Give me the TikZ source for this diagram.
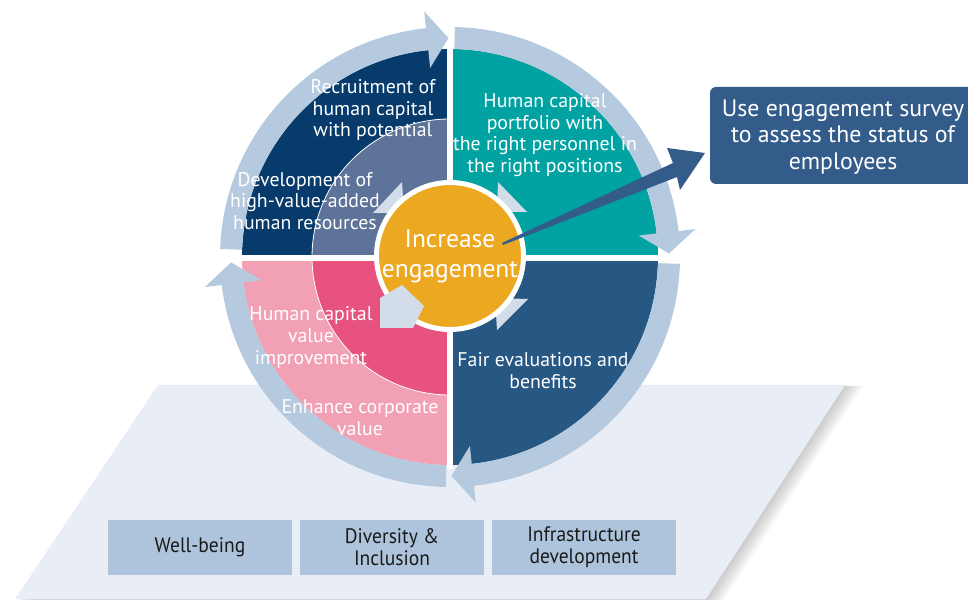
\documentclass[tikz,border=0pt]{standalone}
\usepackage{fontspec}
\setmainfont{PT Sans}
\newfontfamily\condf[FakeStretch=0.93]{PT Sans}
\usetikzlibrary{calc}
\definecolor{navyA}{HTML}{063B6C}
\definecolor{slate}{HTML}{5E7399}
\definecolor{tealc}{HTML}{00A3A2}
\definecolor{navyB}{HTML}{275783}
\definecolor{pinkL}{HTML}{F2A0B3}
\definecolor{pinkD}{HTML}{E8527F}
\definecolor{ringc}{HTML}{B6CADF}
\definecolor{innerc}{HTML}{D3DDEA}
\definecolor{orangec}{HTML}{ECA820}
\definecolor{bigblue}{HTML}{335C8A}
\definecolor{platc}{HTML}{E9EEF6}
\definecolor{botc}{HTML}{ADC4DC}
\definecolor{txtdark}{HTML}{1A1A1A}
\newcommand\ringarrow[2]{%
  \fill[ringc] ($(C)+(#1:230)$) arc[start angle=#1, end angle=#2, radius=230]
    -- ($(C)+(#2:247)$) -- ($(C)+({#2-5.6}:219)$) -- ($(C)+(#2:190)$)
    -- ($(C)+(#2:208)$) arc[start angle=#2, end angle=#1, radius=208] -- cycle;}
\tikzset{
  qtext/.style={text=white, align=center, font=\fontsize{19.8}{21.7}\selectfont, inner sep=0pt},
  botbox/.style={fill=botc, minimum width=184pt, minimum height=55pt, inner sep=0pt,
    align=center, text=txtdark, font=\condf\fontsize{21}{22}\selectfont},
}
\begin{document}
\begin{tikzpicture}[x=1pt,y=1pt]
\useasboundingbox (0,0) rectangle (968,599);
\clip (0,0) rectangle (968,599);
\coordinate (C) at (450,342);
% platform with soft shadow
\foreach \s in {2,4,...,18}{
  \fill[black, opacity=0.022] ($(158,214)+(\s,-1)$) -- ($(845,214)+(\s,-1)$) -- ($(706,0)+(\s,-1)$) -- ($(15,0)+(\s,-1)$) -- cycle;}
\fill[platc] (158,214) -- (845,214) -- (706,0) -- (15,0) -- cycle;
% quadrants
\fill[navyA] (C) -- ++(180:208) arc[start angle=180, end angle=90, radius=208] -- cycle;
\fill[slate, draw=white, line width=0.8pt] (C) -- ++(180:138) arc[start angle=180, end angle=90, radius=138] -- cycle;
\fill[tealc] (C) -- ++(90:208) arc[start angle=90, end angle=0, radius=208] -- cycle;
\fill[navyB] (C) -- ++(0:208) arc[start angle=0, end angle=-90, radius=208] -- cycle;
\fill[pinkL] (C) -- ++(-90:208) arc[start angle=-90, end angle=-180, radius=208] -- cycle;
\fill[pinkD, draw=white, line width=0.8pt] (C) -- ++(-90:138) arc[start angle=-90, end angle=-180, radius=138] -- cycle;
% white separators
\draw[white, line width=6.5pt] ($(C)+(-212,-1)$) -- ($(C)+(212,-1)$);
\draw[white, line width=6pt] ($(C)+(0,-212)$) -- ($(C)+(0,212)$);
% outer ring arrows
\ringarrow{178}{96}
\ringarrow{88.8}{6.5}
\ringarrow{-1.7}{-84}
\ringarrow{-91}{-173}
% inner arrows
\fill[innerc] (373,386) -- (402,417) -- (404,386) -- cycle;
\fill[innerc] (498,417) -- (527,387) -- (497,387) -- cycle;
\fill[innerc] (528,300) -- (497,269) -- (495,301) -- cycle;
% centre circle
\node[circle, fill=orangec, draw=white, line width=5pt, minimum size=147pt, inner sep=0pt,
  text=white, align=center, font=\fontsize{25.5}{30}\selectfont] (core) at (450,343) {Increase\\engagement};
\fill[innerc] (380,271) -- (380,301) -- (402,314) -- (424,293) -- (413,271) -- cycle;
% big arrow to survey box
\fill[bigblue] (502,356) -- (673,436) -- (667,451) -- (705,446) -- (680,409) -- (677,422) -- (503,354) -- cycle;
% survey box
\fill[bigblue, rounded corners=6pt] (710,415) rectangle (990,512);
\node[text=white, align=center, font=\fontsize{23.8}{26.5}\selectfont, inner sep=0pt] (survey) at (843,462)
  {Use engagement survey\\to assess the status of\\employees};
% quadrant texts
\node[qtext] (recruit) at (373,489) {Recruitment of\\human capital\\with potential};
\node[qtext] (develop) at (305,398) {Development of\\high-value-added\\human resources};
\node[qtext] (portfolio) at (545,464) {Human capital\\portfolio with\\the right personnel in\\the right positions};
\node[qtext] (valueimp) at (311,261.5) {Human capital\\value\\improvement};
\node[qtext] (enhance) at (360,181.5) {Enhance corporate\\value};
\node[qtext] (fair) at (543,228.5) {Fair evaluations and\\benefits};
% bottom boxes
\node[botbox] (well) at (200,51.5) {Well-being};
\node[botbox] (div) at (392,51.5) {Diversity \&\\Inclusion};
\node[botbox] (infra) at (584,51.5) {Infrastructure\\development};
\end{tikzpicture}
\end{document}
